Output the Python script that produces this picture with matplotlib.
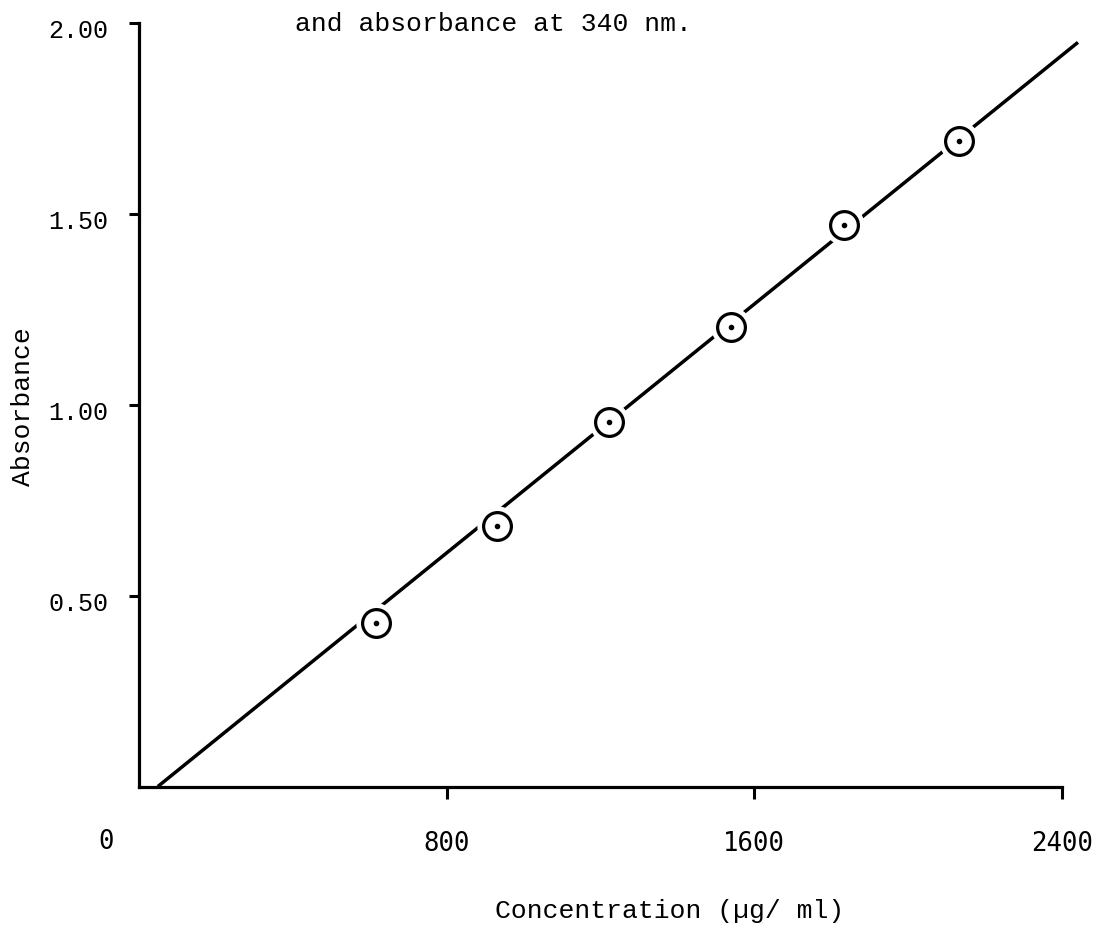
import matplotlib
matplotlib.use("Agg")
import matplotlib.pyplot as plt
from matplotlib.transforms import ScaledTranslation

# ── data ─────────────────────────────────────────────────────────────────────
conc = [616, 931, 1222, 1540, 1834, 2133]          # µg/ml
absorb = [0.429, 0.681, 0.953, 1.204, 1.469, 1.691]

fit_x = [49, 2442]                                  # hand-drawn line ends
fit_y = [0.0, 1.948]

xticks = [800, 1600, 2400]
yticks = [0.50, 1.00, 1.50, 2.00]

mono = "Liberation Mono"
gothic = "DejaVu Sans Mono"

fig = plt.figure(figsize=(10.99, 9.25), dpi=100)
W, H = 1099, 925
x0, y0 = 139, 786.5               # pixel position of the origin
ppx, ppy = 0.3845, 382.0          # pixels per data unit
xmax, ymax = 2480, 2.05
ax = fig.add_axes([x0 / W, (H - y0) / H, xmax * ppx / W, ymax * ppy / H])
ax.set_xlim(0, xmax)
ax.set_ylim(0, ymax)

# ── spines & ticks ───────────────────────────────────────────────────────────
for s in ("top", "right"):
    ax.spines[s].set_visible(False)
ax.spines["left"].set_bounds(0, 2.0)
ax.spines["bottom"].set_bounds(0, 2400)
for s in ("left", "bottom"):
    ax.spines[s].set_linewidth(2.3)

ax.set_xticks(xticks)
ax.set_xticklabels([str(v) for v in xticks], fontfamily=gothic, fontsize=18.5)
ax.tick_params(axis="x", direction="out", length=8.6, width=2.2, pad=23.5)
ax.set_yticks(yticks)
ax.set_yticklabels([f"{v:.2f}" for v in yticks], fontfamily=mono, fontsize=18)
ax.tick_params(axis="y", direction="out", length=7, width=2.2, pad=15)
shift = ScaledTranslation(0, -4 / 72, fig.dpi_scale_trans)
for lab in ax.get_yticklabels():
    lab.set_transform(lab.get_transform() + shift)

# the "0" label sits left of and below the origin
ax.annotate("0", xy=(0, 0), xytext=(-24, -40), textcoords="offset points",
            ha="center", va="center", fontfamily=gothic, fontsize=18.5)

# ── fitted line and measured points ──────────────────────────────────────────
ax.plot(fit_x, fit_y, color="black", lw=2.5, solid_capstyle="butt",
        clip_on=False, zorder=2)
ax.plot(conc, absorb, ls="none", marker="o", ms=28, mfc="white", mec="white",
        clip_on=False, zorder=3)
ax.plot(conc, absorb, ls="none", marker="o", ms=20, mfc="white", mec="black",
        mew=2.3, clip_on=False, zorder=4)
ax.plot(conc, absorb, ls="none", marker="o", ms=3, color="black",
        clip_on=False, zorder=5)

# ── labels ───────────────────────────────────────────────────────────────────
fig.text(670 / W, 1 - 918 / H, "Concentration (µg/ ml)", ha="center", va="baseline",
         fontfamily=mono, fontsize=19)
fig.text(23 / W, 1 - 407 / H, "Absorbance", ha="center", va="center",
         rotation=90, fontfamily=mono, fontsize=19)
fig.text(295 / W, 1 - 31 / H, "and absorbance at 340 nm.", ha="left", va="baseline",
         fontfamily=mono, fontsize=19)

fig.savefig("out.png", dpi=100)
